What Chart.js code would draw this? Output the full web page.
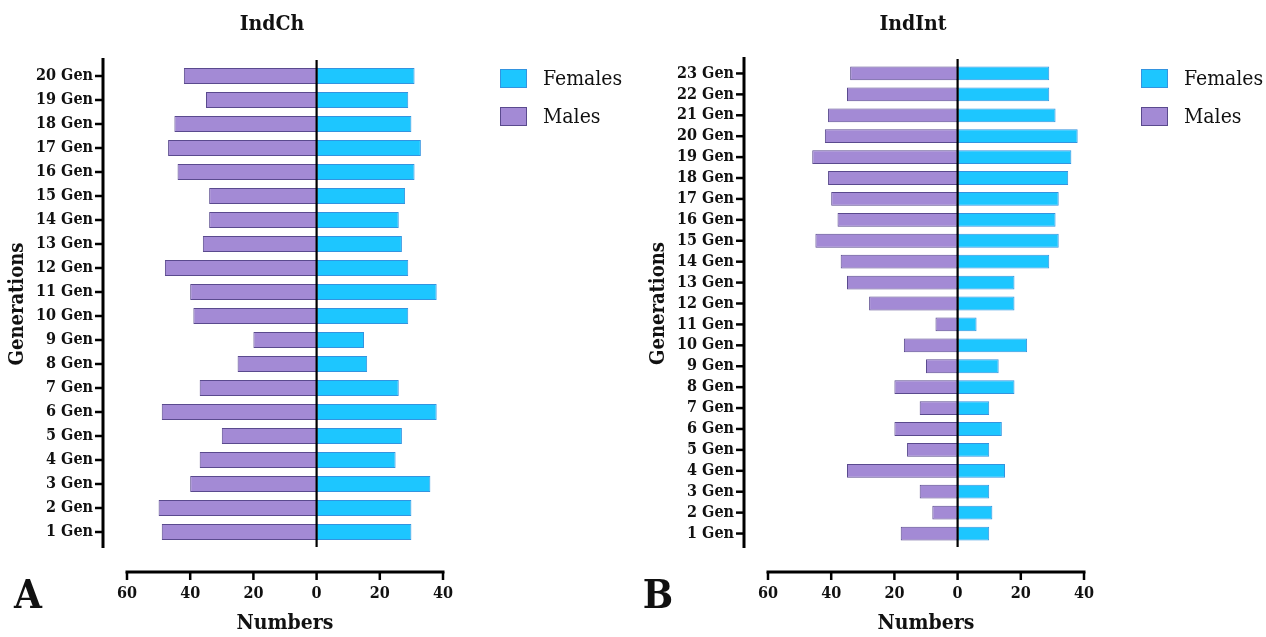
<!DOCTYPE html>
<html><head><meta charset="utf-8">
<script src="https://cdn.jsdelivr.net/npm/chart.js@4.4.0/dist/chart.umd.min.js"></script>
<style>
html,body{margin:0;padding:0;background:#fff;}
#wrap{position:relative;width:1266px;height:637px;overflow:hidden;background:#fff;}
#cA{position:absolute;left:0;top:0;}
#cB{position:absolute;left:641px;top:0;}
</style></head><body>
<div id="wrap">
<canvas id="cA" width="640" height="637"></canvas>
<canvas id="cB" width="625" height="637"></canvas>
</div>
<script>
// ---------- data ----------
const gensA = ['1 Gen','2 Gen','3 Gen','4 Gen','5 Gen','6 Gen','7 Gen','8 Gen','9 Gen','10 Gen',
               '11 Gen','12 Gen','13 Gen','14 Gen','15 Gen','16 Gen','17 Gen','18 Gen','19 Gen','20 Gen'];
const femalesA = [30,30,36,25,27,38,26,16,15,29,38,29,27,26,28,31,33,30,29,31];
const malesA   = [49,50,40,37,30,49,37,25,20,39,40,48,36,34,34,44,47,45,35,42];

const gensB = ['1 Gen','2 Gen','3 Gen','4 Gen','5 Gen','6 Gen','7 Gen','8 Gen','9 Gen','10 Gen',
               '11 Gen','12 Gen','13 Gen','14 Gen','15 Gen','16 Gen','17 Gen','18 Gen','19 Gen','20 Gen',
               '21 Gen','22 Gen','23 Gen'];
const femalesB = [10,11,10,15,10,14,10,18,13,22,6,18,18,29,32,31,32,35,36,38,31,29,29];
const malesB   = [18,8,12,35,16,20,12,20,10,17,7,28,35,37,45,38,40,41,46,42,41,35,34];

const xTicks = [-60,-40,-20,0,20,40];
const seriesNames = ['Females','Males'];
const titles = ['IndCh','IndInt'];
const letters = ['A','B'];

// ---------- styles ----------
const FAM = "'DejaVu Serif Condensed','DejaVu Serif',serif";
const FEM_FILL = '#1DC6FF', FEM_BORDER = '#3394E0';
const MAL_FILL = '#A38AD5', MAL_BORDER = '#5A4A8E';
Chart.defaults.font.family = FAM;
Chart.defaults.color = '#111';

const decor = {
  id: 'decor',
  afterDatasetsDraw(chart, args, o) {
    const {ctx, chartArea: ca, scales: {x, y}} = chart;
    const line = (a,b,c,d) => { ctx.beginPath(); ctx.moveTo(a,b); ctx.lineTo(c,d); ctx.stroke(); };
    ctx.save();
    ctx.strokeStyle = '#000';
    // zero line
    const x0 = x.getPixelForValue(0);
    ctx.lineWidth = 2.2;
    line(x0, ca.top - 4, x0, ca.bottom + 3);
    // vertical (category) axis, detached
    const ax = ca.left - o.yGap;
    ctx.lineWidth = 3;
    line(ax, ca.top - 6, ax, ca.bottom + 4);
    ctx.lineWidth = 2.5;
    y.ticks.forEach((t, i) => { const py = y.getPixelForTick(i); line(ax - 8, py, ax, py); });
    // horizontal (value) axis, detached
    const ay = ca.bottom + 28;
    ctx.lineWidth = 3;
    line(x.getPixelForValue(x.min) - 1.5, ay, x.getPixelForValue(x.max) + 1.5, ay);
    ctx.lineWidth = 2.5;
    x.ticks.forEach(t => { const px = x.getPixelForValue(t.value); line(px, ay, px, ay + 8); });
    ctx.restore();
  },
  afterDraw(chart, args, o) {
    const {ctx} = chart;
    ctx.save();
    ctx.fillStyle = '#111';
    ctx.textAlign = 'center'; ctx.textBaseline = 'middle';
    ctx.font = "bold 21px " + FAM;
    ctx.fillText(o.title, o.titleX, 25);
    ctx.font = "bold 40px " + FAM;
    ctx.fillText(o.letter, o.letterX, 598);
    // legend
    ctx.textAlign = 'left';
    ctx.font = "21px " + FAM;
    chart.data.datasets.forEach((ds, i) => {
      const cy = 78.5 + i * 38;
      ctx.fillStyle = ds.backgroundColor;
      ctx.fillRect(500, cy - 9.5, 27, 19);
      ctx.strokeStyle = ds.borderColor; ctx.lineWidth = 1;
      ctx.strokeRect(500.5, cy - 9, 26, 18);
      ctx.fillStyle = '#111';
      ctx.fillText(ds.label, 543, cy + 1);
    });
    ctx.restore();
  }
};

function makeChart(id, labels, fem, mal, idx, padTop, padRight, letterX) {
  return new Chart(document.getElementById(id), {
    type: 'bar',
    data: {
      labels: labels,
      datasets: [
        { label: seriesNames[0], data: fem, backgroundColor: FEM_FILL, borderColor: FEM_BORDER,
          borderWidth: 1, borderSkipped: false, categoryPercentage: 1, barPercentage: 0.66 },
        { label: seriesNames[1], data: mal.map(v => -v), backgroundColor: MAL_FILL, borderColor: MAL_BORDER,
          borderWidth: 1, borderSkipped: false, categoryPercentage: 1, barPercentage: 0.66 }
      ]
    },
    options: {
      indexAxis: 'y',
      responsive: false,
      animation: false,
      layout: { padding: { top: padTop, right: padRight, left: 0, bottom: 0 } },
      plugins: {
        legend: { display: false },
        tooltip: { enabled: false },
        decor: { title: titles[idx], titleX: 272, letter: letters[idx], letterX: letterX, yGap: 24 }
      },
      scales: {
        x: {
          stacked: true, min: xTicks[0], max: xTicks[xTicks.length - 1],
          afterBuildTicks: s => { s.ticks = xTicks.map(v => ({value: v})); },
          border: { display: false },
          grid: { display: false, drawTicks: false },
          ticks: { padding: 40, color: '#111', font: { size: 16, weight: 'bold' },
                   callback: v => Math.abs(v) },
          title: { display: true, text: 'Numbers', color: '#111', padding: { top: 0, bottom: 1 },
                   font: { size: 21, weight: 'bold' } },
          afterFit: s => { s.height = 637 - 544; }
        },
        y: {
          stacked: true, reverse: true, offset: true,
          border: { display: false },
          grid: { display: false, drawTicks: false },
          ticks: { padding: 34, color: '#111', font: { size: 16, weight: 'bold' }, autoSkip: false },
          title: { display: true, text: 'Generations', color: '#111', padding: { top: 6, bottom: 0 },
                   font: { size: 20, weight: 'bold' } },
          afterFit: s => { s.width = 127; }
        }
      }
    },
    plugins: [decor]
  });
}

makeChart('cA', gensA, femalesA, malesA, 0, 64, 640 - 443, 28);
makeChart('cB', gensB, femalesB, malesB, 1, 63, 625 - 443, 17);
</script>
</body></html>
